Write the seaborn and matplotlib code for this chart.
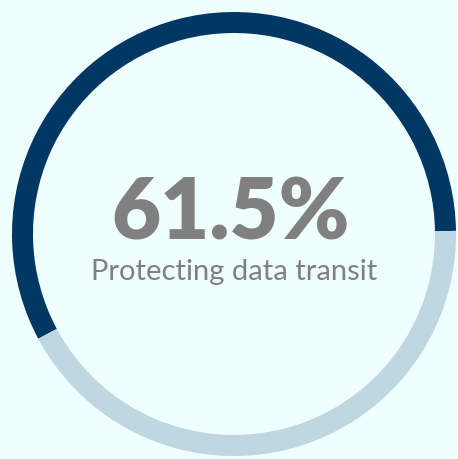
import matplotlib
matplotlib.use("Agg")
import matplotlib.pyplot as plt
import seaborn as sns

# ring shares as drawn (dark part first), headline value and caption
arc_labels = ['Protecting data transit', 'Other']
arc_share = [57.6, 42.4]
arc_colors = ['#003763', '#bfd7e1']
headline = 61.5
caption = 'Protecting data transit'

sns.set_theme(style="white")
plt.rcParams['font.family'] = ['Lato', 'DejaVu Sans']

bg = '#effefe'
fig = plt.figure(figsize=(4.58, 4.59), dpi=100, facecolor=bg)
ax = fig.add_axes([0, 0, 1, 1])
ax.set_facecolor(bg)

# donut ring, pixel units
ax.pie(arc_share, colors=arc_colors, startangle=0.8, counterclock=True,
       center=(234, 225), radius=222,
       wedgeprops=dict(width=21, edgecolor='none', linewidth=0))

ax.set_xlim(0, 458)
ax.set_ylim(0, 459)
ax.set_aspect('auto')
ax.axis('off')

# centre labels
ax.text(231, 219, f'{headline}%', ha='center', va='baseline',
        fontsize=61, fontweight='heavy', color='#808080')
ax.text(234, 179, caption, ha='center', va='baseline',
        fontsize=21, color='#808080')

plt.savefig('out.png', dpi=100, facecolor=bg)
